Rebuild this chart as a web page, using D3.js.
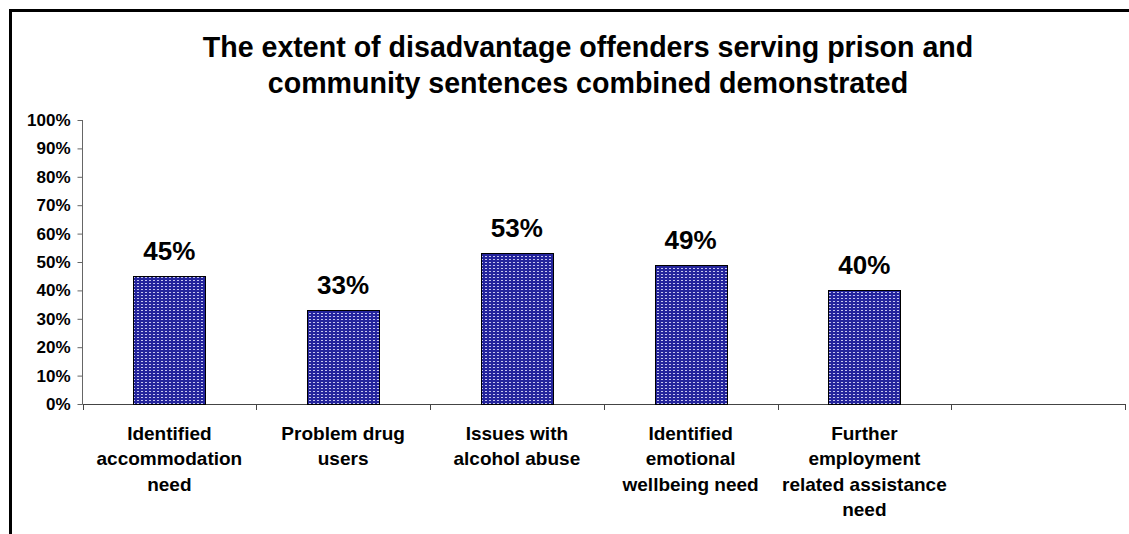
<!DOCTYPE html>
<html>
<head>
<meta charset="utf-8">
<script src="https://cdn.jsdelivr.net/npm/d3@7"></script>
<style>
  body { margin: 0; background: #fff; }
  svg text { font-family: "Liberation Sans", Arial, sans-serif; font-weight: bold; fill: #000; }
</style>
</head>
<body>
<div id="chart"></div>
<script>
// data
const categories = ["accommodation", "drugs", "alcohol", "emotional", "employment", "blank"];
const values = [0.45, 0.33, 0.53, 0.49, 0.40];
const categoryLabels = [
  ["Identified", "accommodation", "need"],
  ["Problem drug", "users"],
  ["Issues with", "alcohol abuse"],
  ["Identified", "emotional", "wellbeing need"],
  ["Further", "employment", "related assistance", "need"],
  []
];
const yTicks = [0, 0.1, 0.2, 0.3, 0.4, 0.5, 0.6, 0.7, 0.8, 0.9, 1];
const titleLines = ["The extent of disadvantage offenders serving prison and",
                    "community sentences combined demonstrated"];

const W = 1129, H = 534;
const plot = {left: 82.5, right: 1125, top: 120, bottom: 404};

const svg = d3.select("#chart")
  .append("svg")
    .attr("width", W)
    .attr("height", H);

// bar fill pattern (navy with light dots)
const pat = svg.append("defs").append("pattern")
    .attr("id", "dots")
    .attr("patternUnits", "userSpaceOnUse")
    .attr("width", 4)
    .attr("height", 3);
pat.append("rect").attr("width", 4).attr("height", 3).attr("fill", "#24249c");
pat.append("rect").attr("x", 1).attr("y", 1).attr("width", 2).attr("height", 1).attr("fill", "#c4c4ee");

// outer frame, runs off the right and bottom edge
svg.append("rect")
    .attr("x", 10.5).attr("y", 10.5)
    .attr("width", W + 20).attr("height", H + 20)
    .attr("fill", "none")
    .attr("stroke", "#000")
    .attr("stroke-width", 3);

// title
svg.append("text")
    .attr("text-anchor", "middle")
    .style("font-size", "28.6px")
  .selectAll("tspan")
  .data(titleLines)
  .join("tspan")
    .attr("x", 588)
    .attr("y", (d, i) => 57 + i * 36)
    .text(d => d);

const x = d3.scaleBand()
  .domain(categories)
  .range([plot.left, plot.right])
  .padding(0);

const y = d3.scaleLinear()
  .domain([0, 1])
  .range([plot.bottom, plot.top]);

// y axis
const yAxis = svg.append("g")
    .attr("transform", `translate(${plot.left},0)`)
    .call(d3.axisLeft(y).tickValues(yTicks).tickFormat(d3.format(".0%")).tickSize(5).tickPadding(7));
yAxis.select(".domain").attr("stroke", "#666").attr("d", `M0,${y(1)}V${y(0)}`);
yAxis.selectAll(".tick line").attr("stroke", "#666");
yAxis.selectAll(".tick text").style("font-size", "17px").attr("fill", "#000");

// x axis: line plus ticks between categories
const xAxis = svg.append("g");
xAxis.append("line")
    .attr("x1", plot.left).attr("x2", plot.right)
    .attr("y1", y(0) + 0.5).attr("y2", y(0) + 0.5)
    .attr("stroke", "#444");
const boundaries = categories.map(c => x(c)).concat([x.range()[1]]);
xAxis.selectAll("line.tk")
  .data(boundaries)
  .join("line")
    .attr("class", "tk")
    .attr("x1", d => Math.round(d) + 0.5).attr("x2", d => Math.round(d) + 0.5)
    .attr("y1", y(0)).attr("y2", y(0) + 6)
    .attr("stroke", "#444");

// category labels
xAxis.selectAll("text.cat")
  .data(categories)
  .join("text")
    .attr("class", "cat")
    .attr("text-anchor", "middle")
    .style("font-size", "19px")
  .selectAll("tspan")
  .data((d, i) => categoryLabels[i].map(t => ({c: d, t: t})))
  .join("tspan")
    .attr("x", d => x(d.c) + x.bandwidth() / 2)
    .attr("y", (d, i) => 440 + i * 25.3)
    .text(d => d.t);

// bars
const barW = x.bandwidth() * 0.415;
svg.selectAll("rect.bar")
  .data(values)
  .join("rect")
    .attr("class", "bar")
    .attr("x", (d, i) => Math.round(x(categories[i]) + (x.bandwidth() - barW) / 2) + 0.5)
    .attr("y", d => Math.round(y(d)) + 0.5)
    .attr("width", Math.round(barW))
    .attr("height", d => y(0) - Math.round(y(d)))
    .attr("fill", "url(#dots)")
    .attr("stroke", "#000")
    .attr("stroke-width", 1);

// value labels
svg.selectAll("text.val")
  .data(values)
  .join("text")
    .attr("class", "val")
    .attr("text-anchor", "middle")
    .attr("x", (d, i) => x(categories[i]) + x.bandwidth() / 2)
    .attr("y", d => y(d) - 16)
    .style("font-size", "26px")
    .text(d => d3.format(".0%")(d));
</script>
</body>
</html>
